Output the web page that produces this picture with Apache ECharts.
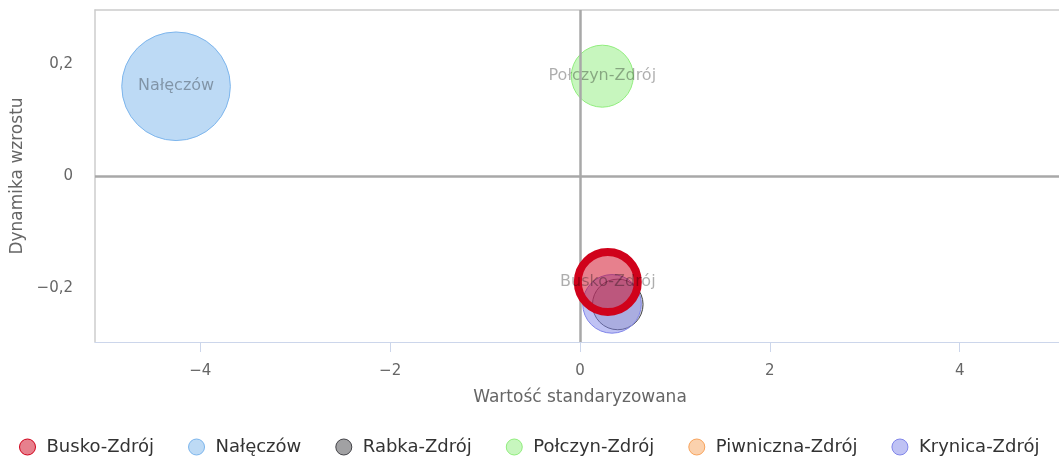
<!DOCTYPE html>
<html>
<head>
<meta charset="utf-8">
<script src="https://cdn.jsdelivr.net/npm/echarts@6/dist/echarts.min.js"></script>
<style>
  html, body { margin: 0; padding: 0; background: #fff; overflow: hidden; }
  #chart { width: 1065px; height: 461px; }
</style>
</head>
<body>
<div id="chart"></div>
<script>
// data
const names = ['Busko-Zdrój', 'Nałęczów', 'Rabka-Zdrój', 'Połczyn-Zdrój', 'Piwniczna-Zdrój', 'Krynica-Zdrój'];
const xValues = [0.293, -4.256, 0.398, 0.235, null, 0.337];
const yValues = [-0.189, 0.160, -0.229, 0.178, null, -0.228];
const bubbleSizes = [60, 108.6, 50.6, 62, null, 58.6];
const xTicks = [-4, -2, 0, 2, 4];
const yTicks = [-0.2, 0, 0.2];

const colors = ['208,2,27', '124,181,236', '67,67,72', '144,237,125', '247,163,92', '128,133,233'];
// fill opacity of the mark itself (Rabka sits mostly hidden under Krynica)
const markAlpha = [0.5, 0.5, 0.22, 0.5, 0.5, 0.5];
const labelled = ['Busko-Zdrój', 'Nałęczów', 'Połczyn-Zdrój'];
const fontFamily = 'DejaVu Sans';

const fmt = (v) => String(v).replace('.', ',').replace('-', '\u2212');

const chart = echarts.init(document.getElementById('chart'));

const series = names.map((name, i) => {
  const data = xValues[i] === null ? [] : [{
    value: [xValues[i], yValues[i], bubbleSizes[i]],
    itemStyle: { color: `rgba(${colors[i]},${markAlpha[i]})` },
  }];
  const isBusko = i === 0;
  return {
    name,
    type: 'scatter',
    z: isBusko ? 6 : 3,
    data,
    symbol: 'circle',
    symbolSize: (v) => v[2],
    itemStyle: {
      color: `rgba(${colors[i]},0.5)`,
      borderColor: `rgb(${colors[i]})`,
      borderWidth: isBusko ? 8 : 1,
      opacity: 1,
    },
    label: {
      show: labelled.indexOf(name) >= 0,
      position: 'inside',
      formatter: name,
      color: 'rgba(0,0,0,0.32)',
      fontFamily,
      fontSize: 16,
    },
    emphasis: { disabled: true },
  };
});

// zero lines
series.push({
  name: 'zero',
  type: 'scatter',
  z: 1,
  data: [],
  silent: true,
  markLine: {
    silent: true,
    symbol: 'none',
    label: { show: false },
    lineStyle: { color: '#a8a8a8', width: 2.5, type: 'solid' },
    data: [{ xAxis: 0 }, { yAxis: 0 }],
  },
});

const option = {
  animation: false,
  textStyle: { fontFamily },
  grid: {
    left: 95,
    top: 10,
    right: 0,
    bottom: 119,
  },
  xAxis: [
    {
      type: 'value',
      min: -5.11,
      max: 5.11,
      splitLine: { show: false },
      axisLine: { show: true, onZero: false, lineStyle: { color: '#ccd6eb', width: 1 } },
      axisTick: { show: true, length: 10, customValues: xTicks, lineStyle: { color: '#ccd6eb' } },
      axisLabel: {
        customValues: xTicks,
        formatter: fmt,
        color: '#666',
        fontSize: 15,
        margin: 22,
      },
      name: 'Wartość standaryzowana',
      nameLocation: 'middle',
      nameGap: 47,
      nameTextStyle: { color: '#666', fontSize: 17, fontFamily },
    },
    {
      type: 'value',
      position: 'top',
      min: -5.11,
      max: 5.11,
      splitLine: { show: false },
      axisLine: { show: true, onZero: false, lineStyle: { color: '#cccccc', width: 1.5 } },
      axisTick: { show: false },
      axisLabel: { show: false },
    },
  ],
  yAxis: {
    type: 'value',
    min: -0.296,
    max: 0.296,
    splitLine: { show: false },
    axisLine: { show: true, onZero: false, lineStyle: { color: '#cccccc', width: 1.5 } },
    axisTick: { show: false },
    axisLabel: {
      customValues: yTicks,
      formatter: fmt,
      color: '#666',
      fontSize: 15,
      margin: 22,
    },
    name: 'Dynamika wzrostu',
    nameLocation: 'middle',
    nameGap: 66,
    nameTextStyle: { color: '#666', fontSize: 17, fontFamily },
  },
  legend: {
    data: names,
    bottom: 0,
    left: 14,
    itemGap: 34,
    itemWidth: 16,
    itemHeight: 16,
    icon: 'circle',
    itemStyle: { borderWidth: 1 },
    textStyle: { color: '#333', fontSize: 18, fontFamily, padding: [0, 0, 0, 6] },
  },
  series,
};

chart.setOption(option);
</script>
</body>
</html>
